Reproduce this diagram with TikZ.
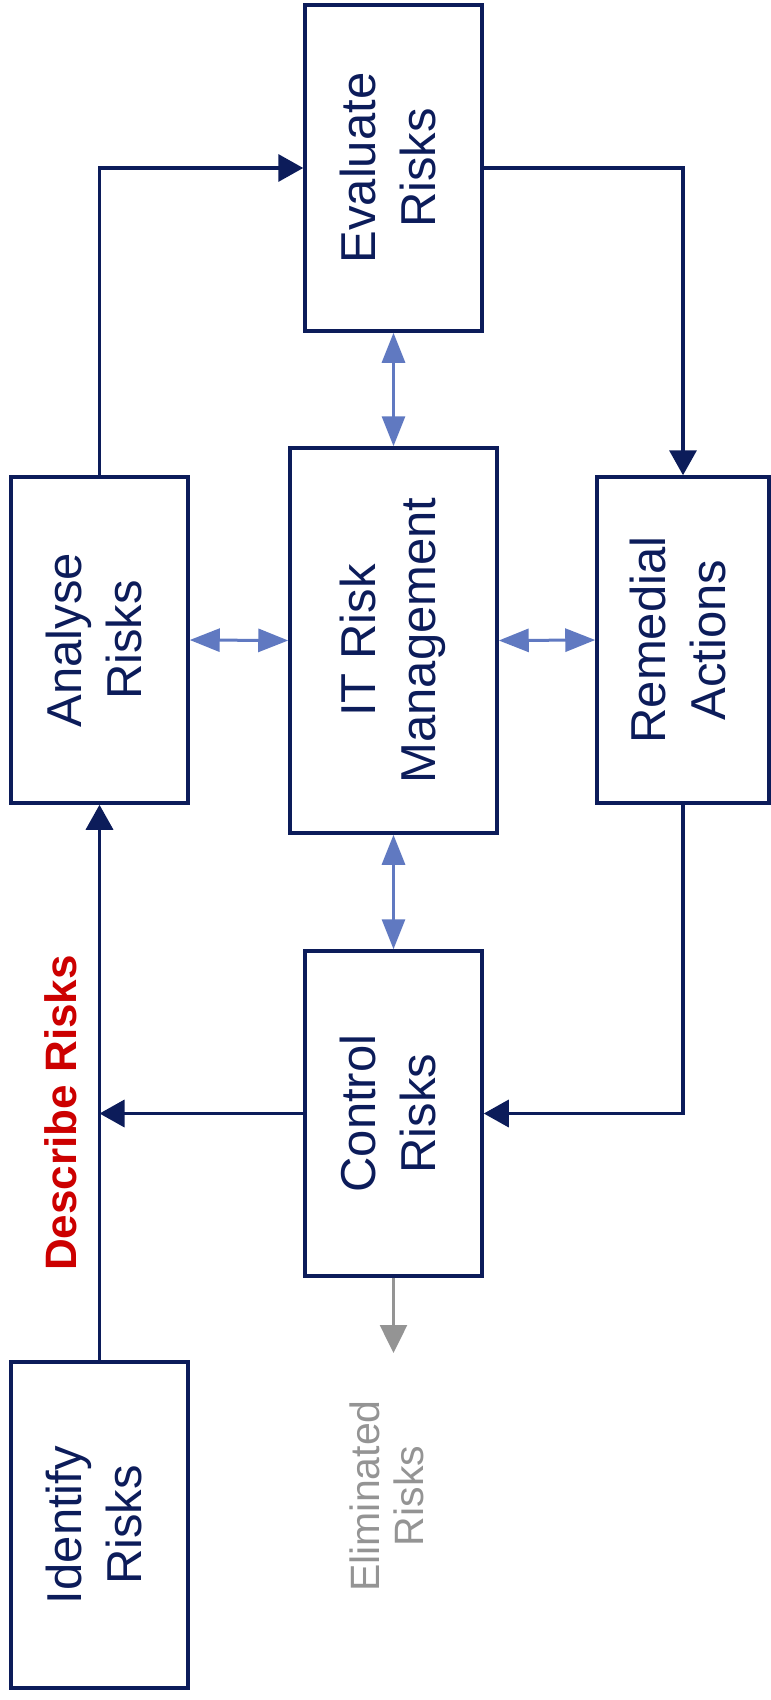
\documentclass[tikz,border=0pt]{standalone}
\usepackage{fontspec}
\setmainfont{Liberation Sans}
\usetikzlibrary{arrows.meta}
\definecolor{navy}{HTML}{0C1C5A}
\definecolor{linkblue}{HTML}{6079C1}
\definecolor{descred}{HTML}{CC0000}
\definecolor{outgray}{HTML}{949494}
% two-line label turned to read bottom-to-top
\newcommand{\uplabel}[2]{\rotatebox{90}{\begin{tabular}{@{}c@{}}#1\\#2\end{tabular}}}
\begin{document}
\begin{tikzpicture}[x=1pt,y=-1pt,
  box/.style={draw=navy, line width=3.5pt, rectangle, inner sep=0pt,
    text=navy, font=\fontsize{49}{60}\selectfont},
  flow/.style={draw=navy, line width=3.5pt, -{Triangle[length=25pt,width=27pt]}},
  link/.style={draw=linkblue, line width=3pt,
    {Triangle[length=30pt,width=23pt]}-{Triangle[length=30pt,width=23pt]}},
  outflow/.style={draw=outgray, line width=2.5pt, -{Triangle[length=28pt,width=27pt]}},
]
\useasboundingbox (0,0) rectangle (771,1700);

% process boxes
\node[box, minimum width=177pt, minimum height=326pt] (ev)  at (393.5,168)   {\uplabel{Evaluate}{Risks}};
\node[box, minimum width=177pt, minimum height=326pt] (an)  at (99.5,640)    {\uplabel{Analyse}{Risks}};
\node[box, minimum width=207pt, minimum height=385pt] (it)  at (393.5,640.5) {\uplabel{IT Risk}{Management}};
\node[box, minimum width=172pt, minimum height=326pt] (rem) at (683,640)     {\uplabel{Remedial}{Actions}};
\node[box, minimum width=177pt, minimum height=325pt] (ctl) at (393.5,1113.5) {\uplabel{Control}{Risks}};
\node[box, minimum width=177pt, minimum height=326pt] (id)  at (99.5,1525)   {\uplabel{Identify}{Risks}};

% free labels
\node[inner sep=0pt, text=descred, font=\bfseries\fontsize{44}{50}\selectfont] (desc) at (61,1113)
  {\rotatebox{90}{Describe Risks}};
\node[inner sep=0pt, text=outgray, font=\fontsize{41}{44}\selectfont] (elim) at (393,1496)
  {\uplabel{Eliminated}{Risks}};
\coordinate (elimtop) at (393.5,1353);

% main cycle
\draw[flow] (id.north) -- (an.south);
\draw[flow] (an.north) |- (ev.west);
\draw[flow] (ev.east) -| (rem.north);
\draw[flow] (rem.south) |- (ctl.east);
\draw[flow] (ctl.west) -- (ctl.west -| id.north);

% links to the management hub
\draw[link] (ev.south) -- (it.north);
\draw[link] (an.east) -- (it.west);
\draw[link] (it.east) -- (rem.west);
\draw[link] (it.south) -- (ctl.north);

% output of control
\draw[outflow] (ctl.south) -- (elimtop);
\end{tikzpicture}
\end{document}
